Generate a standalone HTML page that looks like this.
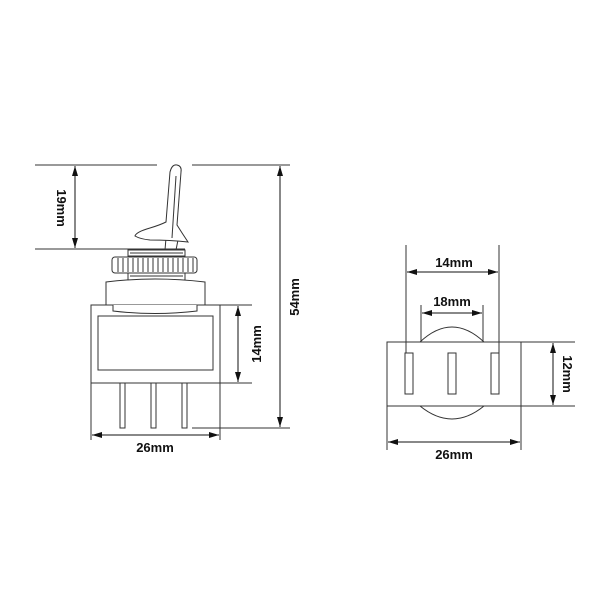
<!DOCTYPE html>
<html><head><style>body{margin:0;background:#fff}svg{display:block}</style></head><body>
<svg width="600" height="600" viewBox="0 0 600 600" xmlns="http://www.w3.org/2000/svg">
<defs>
<marker id="a" markerWidth="10" markerHeight="6" refX="10" refY="3" orient="auto-start-reverse" markerUnits="userSpaceOnUse"><path d="M0,0 L10,3 L0,6 Z" fill="#111"/></marker>
</defs>
<g stroke="#333" stroke-width="1" fill="none">
<line x1="35" y1="165" x2="157" y2="165"/>
<line x1="192" y1="165" x2="290" y2="165"/>
<line x1="35" y1="249" x2="185" y2="249"/>
<line x1="220" y1="305" x2="252" y2="305"/>
<line x1="220" y1="383" x2="252" y2="383"/>
<line x1="192" y1="428" x2="290" y2="428"/>
<line x1="91" y1="383" x2="91" y2="440"/>
<line x1="220" y1="383" x2="220" y2="440"/>
<line x1="75" y1="166" x2="75" y2="248" marker-start="url(#a)" marker-end="url(#a)" stroke="#111"/>
<line x1="280" y1="166" x2="280" y2="427" marker-start="url(#a)" marker-end="url(#a)" stroke="#111"/>
<line x1="238" y1="306" x2="238" y2="382" marker-start="url(#a)" marker-end="url(#a)" stroke="#111"/>
<line x1="92" y1="435" x2="219" y2="435" marker-start="url(#a)" marker-end="url(#a)" stroke="#111"/>
<!-- toggle lever -->
<line x1="166" y1="238" x2="165" y2="250"/>
<line x1="178" y1="240" x2="176" y2="250"/>
<path d="M170,172 Q172,164 177,165 Q182,166 181,172 L177,225 Q182,233 188,242 Q170,240 150,240 Q140,239 135,236 Q136,232 150,228 Q160,225 166,222 Z" fill="#fff"/>
<line x1="176" y1="176" x2="172" y2="238"/>
<!-- bushing -->
<rect x="128" y="250" width="57" height="6" fill="#fff"/>
<line x1="130" y1="253" x2="183" y2="253"/>
<rect x="112" y="257" width="85" height="16" rx="3" fill="#fff"/>
<path d="M118,258v14M123,258v14M128,258v14M133,258v14M138,258v14M143,258v14M148,258v14M153,258v14M158,258v14M163,258v14M168,258v14M173,258v14M178,258v14M183,258v14M188,258v14M193,258v14"/>
<rect x="128" y="273" width="57" height="7" fill="#fff"/>
<line x1="130" y1="276" x2="183" y2="276"/>
<path d="M106,305 L106,282 Q155,276 205,282 L205,305" fill="#fff"/>
<rect x="91" y="305" width="129" height="78" fill="#fff"/>
<path d="M106,305 L113,305 L113,311 Q155,316 197,311 L197,305 L205,305" fill="#fff"/>
<rect x="98" y="316" width="115" height="54"/>
<rect x="120" y="383" width="5" height="45"/>
<rect x="151" y="383" width="5" height="45"/>
<rect x="182" y="383" width="5" height="45"/>
<!-- right view -->
<path d="M420,342 Q452,312 484,342"/>
<path d="M420,406 Q452,432 484,406"/>
<rect x="387" y="342" width="134" height="64"/>
<rect x="405" y="353" width="8" height="41"/>
<rect x="448" y="353" width="8" height="41"/>
<rect x="491" y="353" width="8" height="41"/>
<line x1="406" y1="245" x2="406" y2="353"/>
<line x1="499" y1="245" x2="499" y2="353"/>
<line x1="421" y1="305" x2="421" y2="342"/>
<line x1="483" y1="305" x2="483" y2="342"/>
<line x1="521" y1="342" x2="575" y2="342"/>
<line x1="521" y1="406" x2="575" y2="406"/>
<line x1="387" y1="406" x2="387" y2="450"/>
<line x1="521" y1="406" x2="521" y2="450"/>
<line x1="407" y1="272" x2="498" y2="272" marker-start="url(#a)" marker-end="url(#a)" stroke="#111"/>
<line x1="422" y1="313" x2="482" y2="313" marker-start="url(#a)" marker-end="url(#a)" stroke="#111"/>
<line x1="553" y1="343" x2="553" y2="405" marker-start="url(#a)" marker-end="url(#a)" stroke="#111"/>
<line x1="388" y1="442" x2="520" y2="442" marker-start="url(#a)" marker-end="url(#a)" stroke="#111"/>
</g>
<g font-family="Liberation Sans, sans-serif" font-weight="bold" font-size="13" fill="#111" text-anchor="middle">
<text x="155" y="452">26mm</text>
<text transform="translate(57,208) rotate(90)">19mm</text>
<text transform="translate(261,344) rotate(-90)">14mm</text>
<text transform="translate(299,297) rotate(-90)">54mm</text>
<text x="454" y="267">14mm</text>
<text x="452" y="306">18mm</text>
<text transform="translate(563,374) rotate(90)">12mm</text>
<text x="454" y="459">26mm</text>
</g>
</svg>
</body></html>
